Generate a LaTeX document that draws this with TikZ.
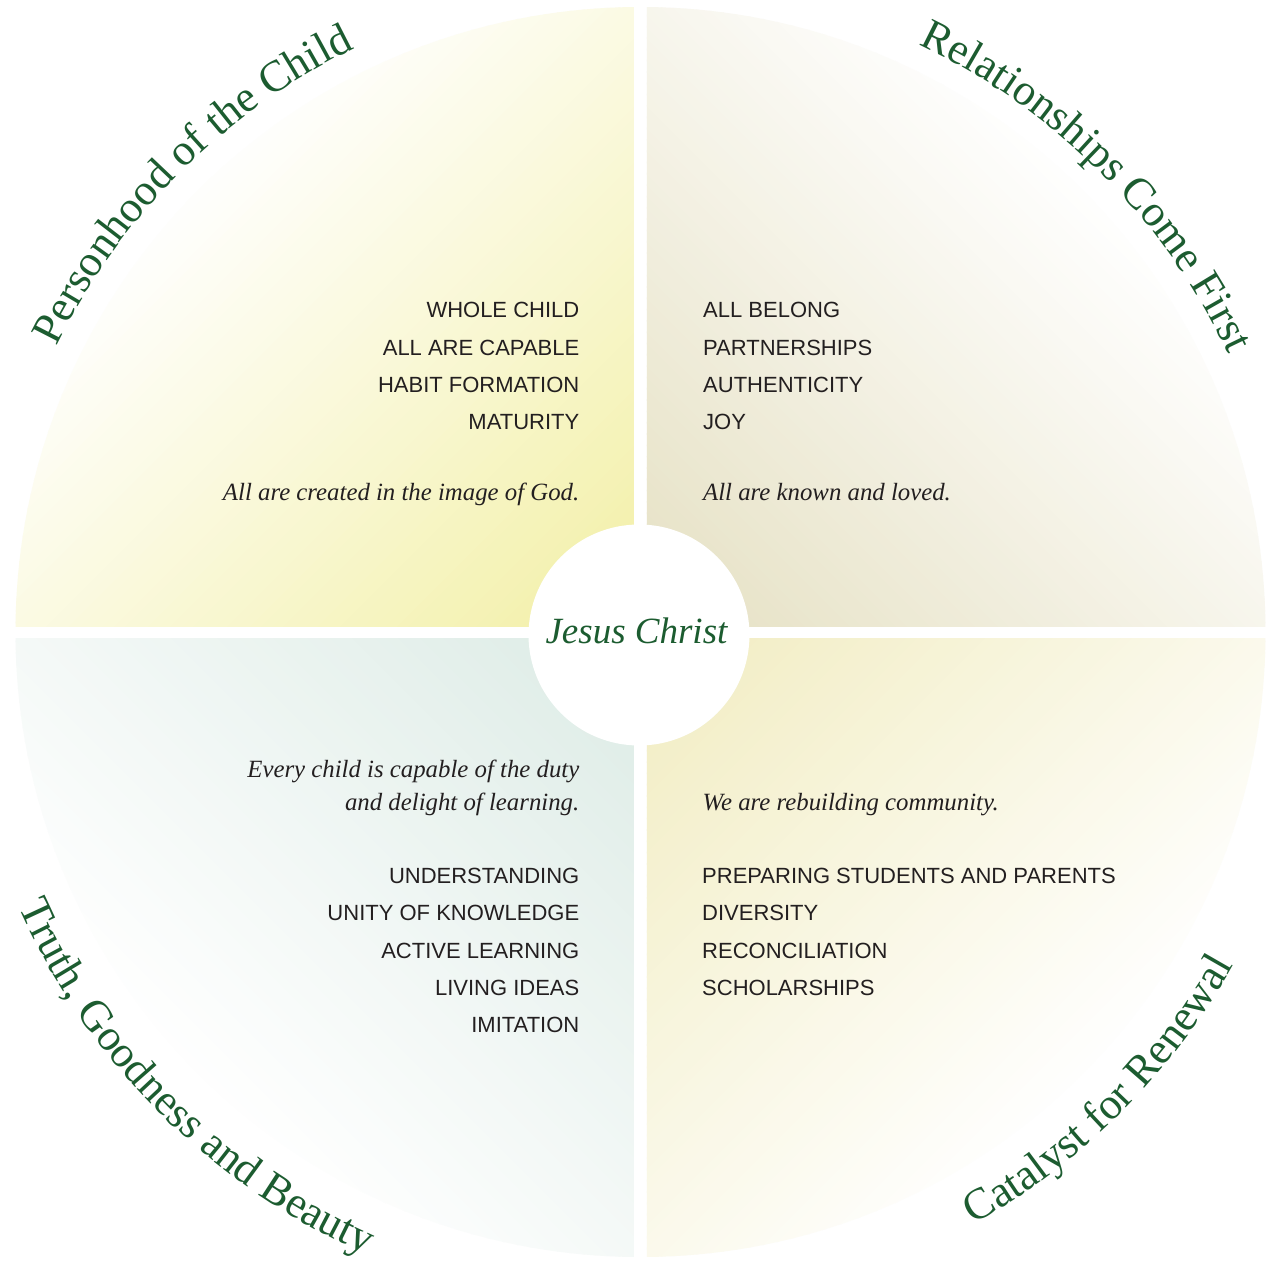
\documentclass[tikz,border=0pt]{standalone}
\usepackage{fontspec}
\setmainfont{Liberation Serif}
\newfontfamily\capsfont{Liberation Sans}
\usetikzlibrary{decorations.text}
\definecolor{tg}{RGB}{28,92,48}
\definecolor{txt}{RGB}{35,31,32}
\definecolor{qTL}{RGB}{242,239,164}
\definecolor{qTR}{RGB}{229,224,194}
\definecolor{qBL}{RGB}{220,235,229}
\definecolor{qBR}{RGB}{241,236,192}
\newcommand\titlefmt{\fontsize{44}{44}\selectfont\color{tg}}
\newcommand\gradquad[4]{%
  \begin{scope}
    \clip (0,0) circle[radius=625];
    \clip #3 rectangle #4;
    \foreach \i in {0,...,79}{
      \pgfmathsetmacro\f{100*(1-(\i+0.5)/80)}
      \fill[#2!\f!white, rotate=#1] (-720,\i*8) rectangle (720,\i*8+9);
    }
  \end{scope}}
\begin{document}
\begin{tikzpicture}[x=1pt,y=1pt,
  caps/.style={font=\capsfont\fontsize{22}{22}\selectfont, text=txt, inner sep=0pt},
  ital/.style={font=\itshape\fontsize{24.8}{25}\selectfont, text=txt, inner sep=0pt},
  title/.style={decorate, decoration={text along path, text align=center, text={|\titlefmt|#1}}}
]
\useasboundingbox (-640.5,-637) rectangle (627.5,632);
\fill[white] (-640.5,-637) rectangle (627.5,632);

% quadrants
\gradquad{45}{qTL}{(-6.5,6)}{(-700,700)}
\gradquad{-45}{qTR}{(6.5,6)}{(700,700)}
\gradquad{135}{qBL}{(-6.5,-6)}{(-700,-700)}
\gradquad{225}{qBR}{(6.5,-6)}{(700,-700)}

% centre
\node[circle, fill=white, minimum size=221pt, inner sep=0pt] (jc) at (-1.5,-3) {};
\node[font=\itshape\fontsize{37}{37}\selectfont, text=tg, anchor=base, inner sep=0pt] (jct) at (-4,-11) {Jesus Christ};

% titles
\path[title={Personhood of the Child}] (165:650) arc[start angle=165, end angle=105, radius=650];
\path[title={Relationships Come First}] (75:650) arc[start angle=75, end angle=15, radius=650];
\path[title={Truth, Goodness and Beauty}] (195:680) arc[start angle=195, end angle=255, radius=680];
\path[title={Catalyst for Renewal}] (285:680) arc[start angle=285, end angle=345, radius=680];

% top left
\node[caps, anchor=base east] (tl1) at (-61,314.3) {WHOLE CHILD};
\node[caps, anchor=base east] (tl2) at (-61,276.7) {ALL ARE CAPABLE};
\node[caps, anchor=base east] (tl3) at (-61,239.3) {HABIT FORMATION};
\node[caps, anchor=base east] (tl4) at (-61,202) {MATURITY};
\node[ital, anchor=base east] (tl5) at (-61,131.3) {All are created in the image of God.};

% top right
\node[caps, anchor=base west] (tr1) at (62.5,314.3) {ALL BELONG};
\node[caps, anchor=base west] (tr2) at (62.5,276.7) {PARTNERSHIPS};
\node[caps, anchor=base west] (tr3) at (62.5,239.3) {AUTHENTICITY};
\node[caps, anchor=base west] (tr4) at (62.5,202) {JOY};
\node[ital, anchor=base west] (tr5) at (62.5,131.3) {All are known and loved.};

% bottom left
\node[ital, anchor=base east] (bl1) at (-61,-145.3) {Every child is capable of the duty};
\node[ital, anchor=base east] (bl2) at (-61,-178) {and delight of learning.};
\node[caps, anchor=base east] (bl3) at (-61,-251.3) {UNDERSTANDING};
\node[caps, anchor=base east] (bl4) at (-61,-288.7) {UNITY OF KNOWLEDGE};
\node[caps, anchor=base east] (bl5) at (-61,-326.3) {ACTIVE LEARNING};
\node[caps, anchor=base east] (bl6) at (-61,-363.7) {LIVING IDEAS};
\node[caps, anchor=base east] (bl7) at (-61,-400.7) {IMITATION};

% bottom right
\node[ital, anchor=base west] (br1) at (62,-178.7) {We are rebuilding community.};
\node[caps, anchor=base west] (br2) at (61.5,-251.3) {PREPARING STUDENTS AND PARENTS};
\node[caps, anchor=base west] (br3) at (61.5,-288) {DIVERSITY};
\node[caps, anchor=base west] (br4) at (61.5,-326.3) {RECONCILIATION};
\node[caps, anchor=base west] (br5) at (61.5,-363) {SCHOLARSHIPS};
\end{tikzpicture}
\end{document}
